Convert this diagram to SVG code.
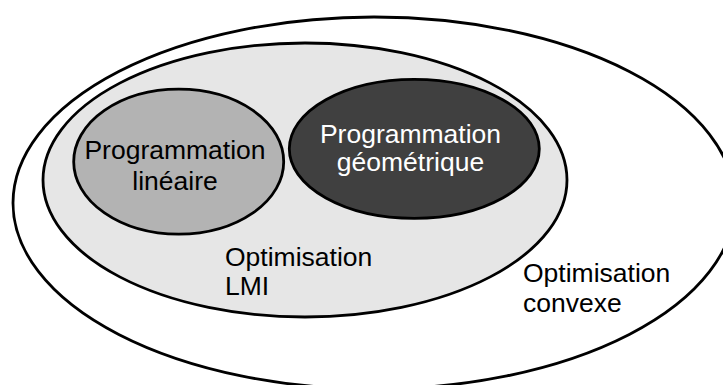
<svg xmlns="http://www.w3.org/2000/svg" width="723" height="385" viewBox="0 0 723 385">
<style>
.e{stroke:#000;stroke-width:2.8}
.t{font-family:"Liberation Sans",Arial,sans-serif;font-size:26.5px;fill:#000}
.w{fill:#fff}
.c{text-anchor:middle}
</style>
<rect width="723" height="385" fill="#fff"/>
<g id="convexe">
<ellipse class="e" cx="374" cy="203" rx="361" ry="186" fill="#fff"/>
<text class="t" x="523" y="282">Optimisation</text>
<text class="t" x="523" y="312">convexe</text>
</g>
<g id="lmi">
<ellipse class="e" cx="305" cy="180" rx="262" ry="137" fill="#e6e6e6"/>
<text class="t" x="225" y="266">Optimisation</text>
<text class="t" x="225" y="295">LMI</text>
</g>
<g id="lineaire">
<ellipse class="e" cx="178.7" cy="161.7" rx="105" ry="72.5" fill="#b3b3b3"/>
<text class="t c" x="175" y="159">Programmation</text>
<text class="t c" x="175" y="190">linéaire</text>
</g>
<g id="geometrique">
<ellipse class="e" cx="414.3" cy="148.8" rx="125" ry="69.5" fill="#404040"/>
<text class="t c w" x="410.5" y="143">Programmation</text>
<text class="t c w" x="410.5" y="171">géométrique</text>
</g>
<g id="connectors"/>
</svg>
